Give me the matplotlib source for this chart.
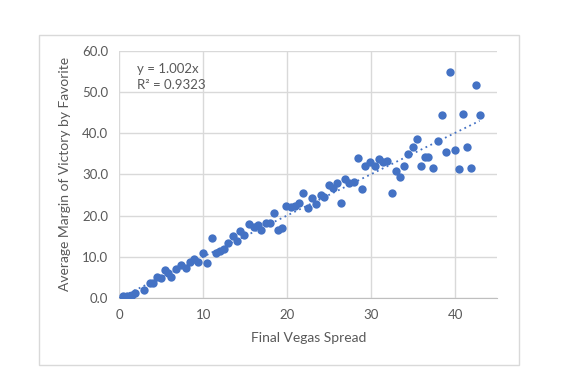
import numpy as np
import matplotlib.pyplot as plt
from matplotlib.patches import Rectangle

# spread vs. average margin of victory
spread = [0.5, 0.9, 1.5, 1.9, 2.9, 3.6, 4.0, 4.5, 5.0, 5.4, 5.8, 6.2, 6.8, 7.4,
          7.9, 8.4, 8.9, 9.4, 10.0, 10.5, 11.0, 11.5, 12.0, 12.5, 13.0, 13.5,
          14.0, 14.4, 14.9, 15.5, 16.0, 16.5, 16.9, 17.5, 18.0, 18.4, 18.9, 19.4,
          19.9, 20.4, 20.9, 21.4, 21.9, 22.5, 23.0, 23.4, 24.0, 24.4, 25.0, 25.5,
          25.9, 26.4, 26.9, 27.4, 27.9, 28.4, 28.9, 29.3, 29.9, 30.4, 30.9, 31.4,
          31.9, 32.5, 32.9, 33.4, 33.9, 34.4, 35.0, 35.4, 35.9, 36.4, 36.8, 37.4,
          37.9, 38.4, 38.9, 39.4, 40.0, 40.4, 40.9, 41.4, 41.9, 42.5, 42.9]
margin = [0.5, 0.6, 0.8, 1.1, 1.9, 3.6, 3.6, 5.2, 4.9, 6.8, 6.0, 5.2, 7.0, 8.0,
          7.2, 8.8, 9.4, 8.8, 11.0, 8.4, 14.5, 10.8, 11.4, 11.9, 13.4, 15.0,
          13.9, 16.3, 15.3, 17.9, 17.3, 17.7, 16.5, 18.1, 18.1, 20.6, 16.5, 17.1,
          22.3, 22.0, 22.3, 23.1, 25.4, 21.8, 24.2, 22.8, 25.0, 24.6, 27.4, 26.6,
          28.0, 23.0, 28.8, 28.0, 28.2, 33.9, 26.4, 32.1, 32.9, 32.1, 33.7, 33.1,
          33.3, 25.4, 30.8, 29.3, 32.1, 35.0, 36.6, 38.5, 32.1, 34.1, 34.3, 31.5,
          38.2, 44.4, 35.4, 54.8, 35.9, 31.2, 44.7, 36.7, 31.5, 51.7, 44.4]

slope = 1.002
r2 = 0.9323
x_ticks = [0, 10, 20, 30, 40]
y_ticks = [0, 10, 20, 30, 40, 50, 60]

blue = '#4472C4'
grid_c = '#D9D9D9'
txt_c = '#595959'

plt.rcParams['font.family'] = ['Lato', 'DejaVu Sans']

fig = plt.figure(figsize=(5.67, 3.72), dpi=100)
fig.patches.append(Rectangle((0.0688, 0.0188), 0.8465, 0.8872, transform=fig.transFigure,
                             fill=False, edgecolor=grid_c, linewidth=1.0))
ax = fig.add_axes([0.2104, 0.1989, 0.6666, 0.6648])

ax.scatter(spread, margin, s=36, color=blue, zorder=3, linewidths=0)
xs = np.array([0, max(spread)])
ax.plot(xs, slope * xs, linestyle=(0, (1, 2)), color=blue, linewidth=1.3, zorder=2)

ax.set_xlim(0, 45)
ax.set_ylim(0, 60)
ax.set_xticks(x_ticks)
ax.set_yticks(y_ticks)
ax.set_yticklabels([f'{v:.1f}' for v in y_ticks])
ax.grid(True, color=grid_c, linewidth=1.0)
ax.set_axisbelow(True)
for s in ['top', 'right', 'left']:
    ax.spines[s].set_visible(False)
ax.spines['bottom'].set_color('#BFBFBF')
ax.tick_params(length=0, colors=txt_c, labelsize=9.5, pad=8)

ax.set_xlabel('Final Vegas Spread', color=txt_c, fontsize=10, labelpad=8)
ax.set_ylabel('Average Margin of Victory by Favorite', color=txt_c, fontsize=10, labelpad=8)

ax.text(0.047, 0.925, f'y = {slope:.3f}x', transform=ax.transAxes, color=txt_c,
        fontsize=9.5, va='center')
ax.text(0.047, 0.862, f'R² = {r2}', transform=ax.transAxes, color=txt_c,
        fontsize=9.5, va='center')

fig.savefig('out.png', dpi=100)
